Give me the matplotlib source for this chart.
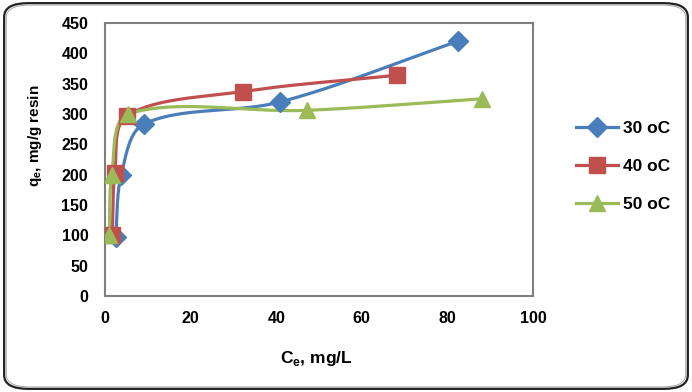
import matplotlib.pyplot as plt
import numpy as np
from matplotlib.patches import FancyBboxPatch
from matplotlib.lines import Line2D

# isotherm data
ce_30 = [2.5, 3.8, 9.2, 41.0, 82.5]
qe_30 = [97, 200, 284, 320, 420]
ce_40 = [1.7, 2.3, 5.1, 32.2, 68.2]
qe_40 = [100, 203, 297, 337, 364]
ce_50 = [1.0, 1.6, 5.4, 47.1, 88.0]
qe_50 = [100, 200, 300, 306, 325]

labels = ['30 oC', '40 oC', '50 oC']
colors = ['#4A7EBB', '#C0504D', '#9BBB59']
markers = ['D', 's', '^']
msizes = [10.5, 11, 12]

XMAX, YMAX = 100, 450
# pixel extent of the axes, used to smooth in screen space like Excel
PX_W, PX_H = 428.0, 273.0


def smooth_curve(xs, ys, n=40):
    # bezier through the points, handles weighted by chord length
    p = np.column_stack([np.array(xs) / XMAX * PX_W, np.array(ys) / YMAX * PX_H])
    pts = np.vstack([p[0], p, p[-1]])
    out = []
    for i in range(1, len(pts) - 2):
        p0, p1, p2, p3 = pts[i - 1], pts[i], pts[i + 1], pts[i + 2]
        d01 = np.hypot(*(p1 - p0))
        d12 = np.hypot(*(p2 - p1))
        d23 = np.hypot(*(p3 - p2))
        c1 = p1 + (p2 - p0) * d12 / (3.0 * (d01 + d12))
        c2 = p2 - (p3 - p1) * d12 / (3.0 * (d12 + d23))
        t = np.linspace(0, 1, n)[:, None]
        seg = ((1 - t) ** 3) * p1 + 3 * ((1 - t) ** 2) * t * c1 + 3 * (1 - t) * t ** 2 * c2 + t ** 3 * p2
        out.append(seg)
    out = np.vstack(out)
    return out[:, 0] / PX_W * XMAX, out[:, 1] / PX_H * YMAX


plt.rcParams['font.family'] = ['Liberation Sans', 'DejaVu Sans']

fig = plt.figure(figsize=(6.92, 3.92), dpi=100)

# rounded outer frame (double line)
fig.patches.append(FancyBboxPatch((0.006, 0.008), 0.988, 0.984,
                                  boxstyle='round,pad=0,rounding_size=0.035',
                                  transform=fig.transFigure, fill=False,
                                  edgecolor='#222222', linewidth=1.6))
fig.patches.append(FancyBboxPatch((0.009, 0.013), 0.982, 0.974,
                                  boxstyle='round,pad=0,rounding_size=0.033',
                                  transform=fig.transFigure, fill=False,
                                  edgecolor='#999999', linewidth=0.6))

ax = fig.add_axes([105 / 692, 1 - 296 / 392, 428 / 692, 273 / 392])

series = [(ce_30, qe_30), (ce_40, qe_40), (ce_50, qe_50)]
for (xs, ys), lab, col, mk, ms in zip(series, labels, colors, markers, msizes):
    sx, sy = smooth_curve(xs, ys)
    ax.plot(sx, sy, color=col, linewidth=2.3, zorder=2)
    ax.plot(xs, ys, linestyle='none', marker=mk, markersize=ms, color=col,
            markeredgecolor=col, zorder=3)

ax.set_xlim(0, XMAX)
ax.set_ylim(0, YMAX)
ax.set_xticks(np.arange(0, 101, 20))
ax.set_yticks(np.arange(0, 451, 50))
ax.tick_params(length=0, labelsize=11.5)
ax.tick_params(axis='y', pad=12)
ax.tick_params(axis='x', pad=11)
for lbl in ax.get_xticklabels() + ax.get_yticklabels():
    lbl.set_fontweight('bold')
for s in ax.spines.values():
    s.set_color('#7f7f7f')
    s.set_linewidth(1.5)

ax.set_xlabel(r'C$_\mathregular{e}$, mg/L', fontsize=12.5, fontweight='bold')
ax.set_ylabel(r'q$_\mathregular{e}$, mg/g resin', fontsize=11, fontweight='bold')
ax.xaxis.set_label_coords((316 - 105) / 428, -(358 - 296) / 273)
ax.yaxis.set_label_coords(-(105 - 35) / 428, (296 - 136) / 273)
ax.xaxis.label.set_va('center')
ax.yaxis.label.set_va('center')

handles = [Line2D([], [], color=c, marker=m, markersize=ms, linewidth=2.3)
           for c, m, ms in zip(colors, markers, msizes)]
leg = fig.legend(handles, labels, loc='center left', bbox_to_anchor=(0.81, 0.575),
                 frameon=False, labelspacing=1.3, handlelength=2.4, handletextpad=0.3,
                 prop={'weight': 'bold', 'size': 12.5})

fig.savefig('out.png', dpi=100)
